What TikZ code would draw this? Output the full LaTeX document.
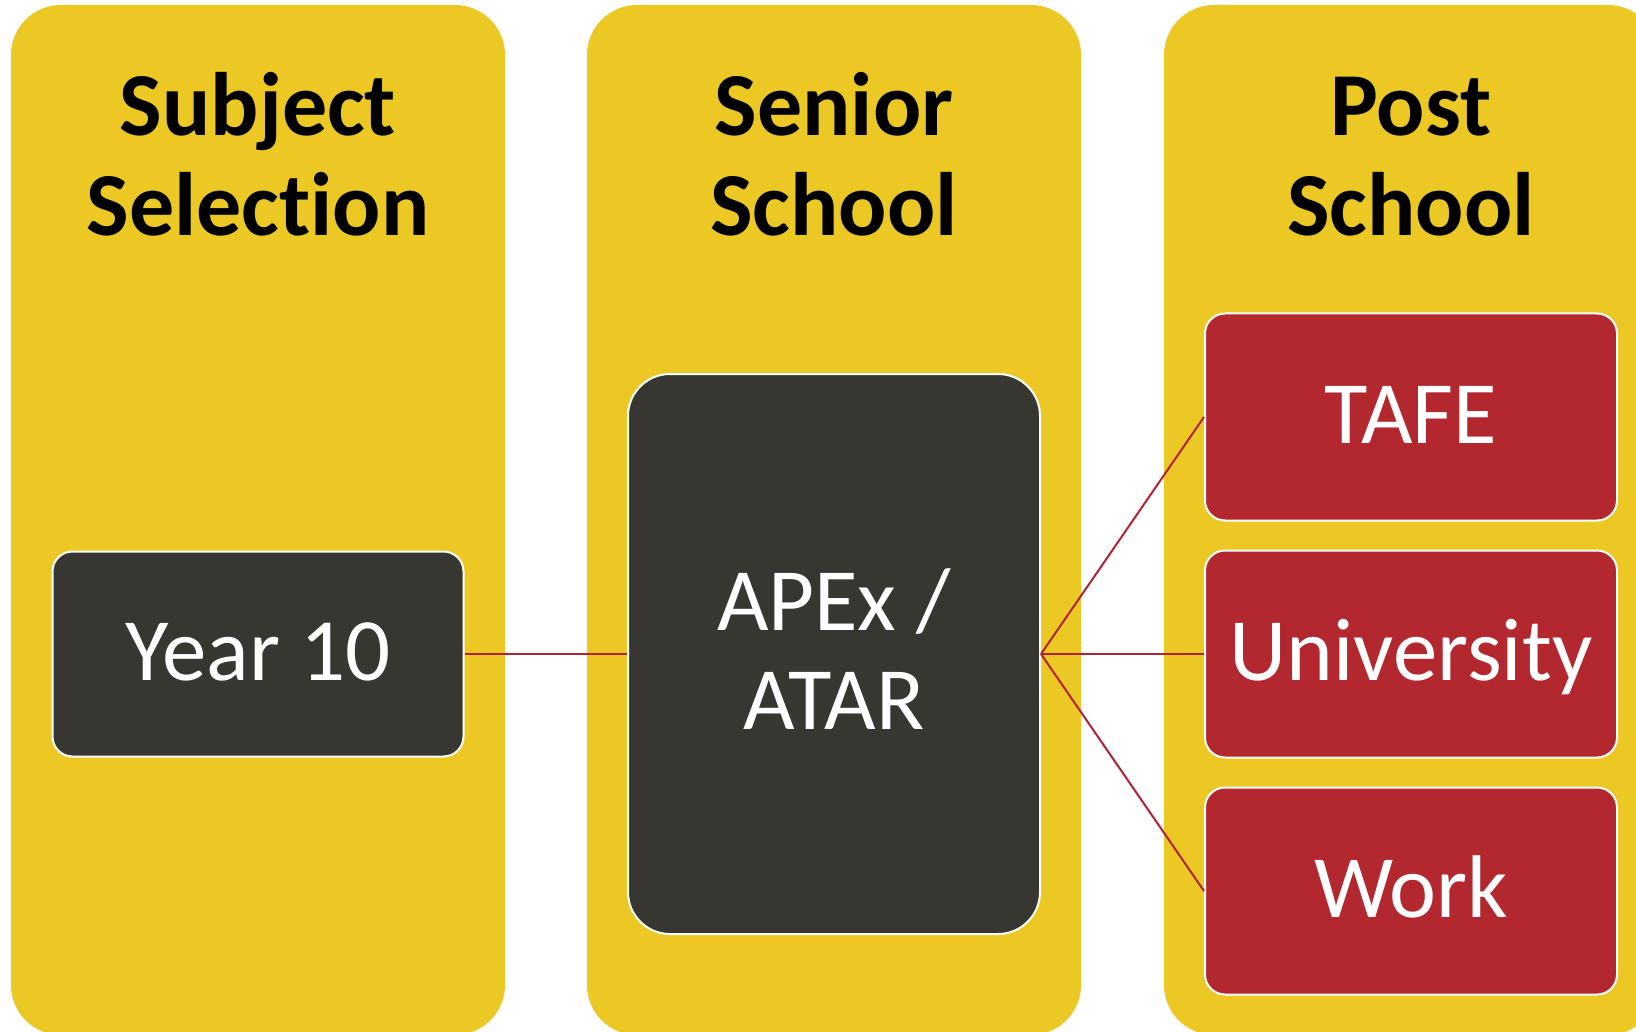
\documentclass[tikz,border=0pt]{standalone}
\usepackage{fontspec}
\setmainfont{Carlito}[Ligatures=NoCommon]
\usetikzlibrary{positioning}
\definecolor{colyellow}{RGB}{236,200,37}
\definecolor{colred}{RGB}{179,39,47}
\definecolor{coldark}{RGB}{55,54,48}
\definecolor{colline}{RGB}{178,34,52}

\begin{document}
\begin{tikzpicture}[x=1pt,y=-1pt,
	column/.style={fill=colyellow,rounded corners=50pt},
	heading/.style={font=\fontsize{90}{100}\selectfont\bfseries,align=center,anchor=base,inner sep=0pt},
	darkbox/.style={draw=white,line width=2pt,fill=coldark,rounded corners=20pt,text=white,font=\fontsize{89}{99}\selectfont,align=center,inner sep=0pt},
	redbox/.style={draw=white,line width=2pt,fill=colred,rounded corners=20pt,text=white,font=\fontsize{89}{99}\selectfont,minimum width=412pt,minimum height=207pt,text height=52pt,text depth=0pt,inner sep=0pt},
	link/.style={draw=colline,line width=2pt}]

	% Page size
	\useasboundingbox (0,0) rectangle (1636,1032);
	\clip (0,0) rectangle (1636,1032);

	% Draw columns
	\fill[column] (11,5) rectangle (505,1035);
	\fill[column] (587,5) rectangle (1081,1035);
	\fill[column] (1164,5) rectangle (1658,1035);

	% Column headings (base = last line)
	\node[heading] (subjhead) at (258,236) {Subject\\Selection};
	\node[heading] (seniorhead) at (834,236) {Senior\\School};
	\node[heading] (posthead) at (1411,236) {Post\\School};

	% Boxes
	\node[darkbox,minimum width=411pt,minimum height=205pt,text height=52pt,text depth=0pt] (year) at (258,654) {Year 10};
	\node[darkbox,rounded corners=42pt,minimum width=412pt,minimum height=560pt] (apex) at (834,654) {APEx /\\ATAR\rule[-10pt]{0pt}{0pt}};
	\node[redbox] (tafe) at (1411,417) {TAFE};
	\node[redbox] (uni) at (1411,654) {University};
	\node[redbox] (work) at (1411,891) {Work};

	% Connectors
	\draw[link] (year.east) -- (apex.west);
	\draw[link] (apex.east) -- (tafe.west);
	\draw[link] (apex.east) -- (uni.west);
	\draw[link] (apex.east) -- (work.west);
\end{tikzpicture}
\end{document}
